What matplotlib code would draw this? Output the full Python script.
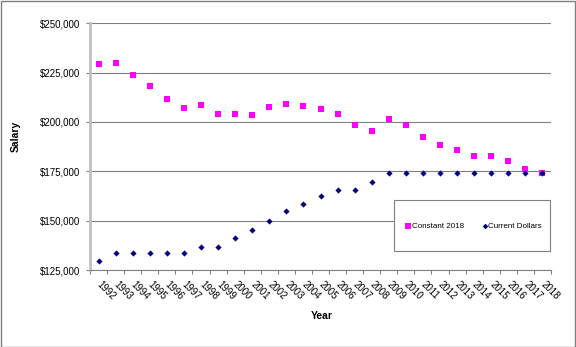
import matplotlib
matplotlib.use("Agg")
import matplotlib.pyplot as plt
from matplotlib.patches import Rectangle
from matplotlib.ticker import FuncFormatter

plt.rcParams['font.family'] = ['Liberation Sans', 'DejaVu Sans']

years = [str(y) for y in range(1992, 2019)]
constant_2018 = [229400, 229900, 223900, 218000, 211600, 206900, 208400, 204000, 204000,
                 203500, 207400, 208900, 208100, 206400, 203900, 198300, 195500, 201500,
                 198400, 192300, 188300, 185600, 182700, 182600, 180200, 176300, 174200]
current_dollars = [129600, 133800, 133800, 133800, 133800, 133800, 136800, 136800, 141400,
                   145100, 150000, 154800, 158300, 162400, 165400, 165400, 169500, 174200,
                   174200, 174200, 174200, 174200, 174200, 174200, 174200, 174200, 174200]
yticks = [125000, 150000, 175000, 200000, 225000, 250000]

W, H = 576, 347
fig = plt.figure(figsize=(W / 100, H / 100), dpi=100)
ax = fig.add_axes([90 / W, 1 - 270 / H, (551 - 90) / W, (270 - 23.3) / H])

x = list(range(len(years)))
ax.scatter(x, constant_2018, marker='s', s=18, color='#FF00FF', zorder=3,
           label='Constant 2018', linewidths=0)
ax.scatter(x, current_dollars, marker='D', s=10, color='#000080', zorder=3,
           label='Current Dollars', linewidths=0)

ax.set_xlim(-0.5, len(years) - 0.5)
ax.set_ylim(125000, 250000)
ax.set_yticks(yticks)
ax.yaxis.set_major_formatter(FuncFormatter(lambda v, p: f"${v:,.0f}"))
ax.grid(axis='y', color='#808080', linewidth=0.8)
ax.set_axisbelow(True)

ax.set_xticks(x)
ax.set_xticklabels(years, rotation=-45, rotation_mode='anchor', ha='left', va='center')
ax.set_xticks([i - 0.5 for i in range(len(years) + 1)], minor=True)
ax.tick_params(axis='x', which='major', length=0, pad=9, labelsize=7, colors='#000000')
ax.tick_params(axis='x', which='minor', length=3, width=0.8, color='#808080', direction='out')
ax.tick_params(axis='y', length=3, width=0.8, color='#808080', labelsize=7, pad=4)

for s in ['top', 'right']:
    ax.spines[s].set_visible(False)
ax.spines['left'].set_color('#c0c0c0')
ax.spines['left'].set_linewidth(2)
ax.spines['bottom'].set_color('#808080')
ax.spines['bottom'].set_linewidth(0.8)

# legend box
bx0, bx1, by0, by1 = 394, 550, 200, 251
rect = Rectangle((bx0 / W, 1 - by1 / H), (bx1 - bx0) / W, (by1 - by0) / H,
                 transform=fig.transFigure, facecolor='white', edgecolor='#808080',
                 linewidth=0.8, zorder=5)
fig.add_artist(rect)
leg = fig.legend(loc='center', bbox_to_anchor=(473.5 / W, 1 - 226.3 / H),
                 ncol=2, frameon=False, fontsize=5.8, handletextpad=0.05,
                 columnspacing=2.2, handlelength=0.8, markerscale=0.9)
leg.set_zorder(6)

fig.text(15.7 / W, 1 - 136 / H, 'Salary', rotation=90, ha='center', va='center',
         fontsize=7.5, fontweight='bold')
fig.text(322 / W, 1 - 315.6 / H, 'Year', ha='center', va='center',
         fontsize=7.5, fontweight='bold')

fig.add_artist(Rectangle((0.5 / W, 0.5 / H), (W - 1.5) / W, (H - 1.5) / H,
                         transform=fig.transFigure, fill=False, edgecolor='#808080',
                         linewidth=1.0, zorder=10))

fig.savefig('out.png', dpi=100)
